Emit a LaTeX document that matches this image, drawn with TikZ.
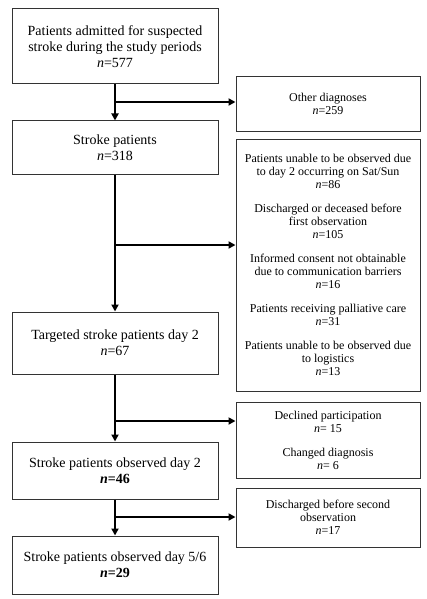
\documentclass[tikz,border=0pt]{standalone}
\usepackage{fontspec}
\setmainfont{Liberation Serif}
\usetikzlibrary{arrows.meta}
\tikzset{
  leftbox/.style={draw=black!80, line width=1pt, minimum width=206pt, inner sep=0pt, align=center, font=\fontsize{14}{16}\selectfont},
  rightbox/.style={draw=black!80, line width=1pt, minimum width=184pt, inner sep=0pt, align=center, font=\fontsize{12}{13}\selectfont},
  flow/.style={line width=2.2pt, -{Triangle[length=7pt,width=7pt]}},
  trunk/.style={line width=2.2pt}
}
\newcommand{\gap}{\\[11pt]}
\begin{document}
\begin{tikzpicture}[x=1pt,y=-1pt]
\useasboundingbox (0,0) rectangle (426,599);
% left column
\node[leftbox, minimum height=75pt] (b1) at (115,46.5) {Patients admitted for suspected\\stroke during the study periods\\\textit{n}=577};
\node[leftbox, minimum height=53pt] (b2) at (115,147.5) {Stroke patients\\\textit{n}=318};
\node[leftbox, minimum height=62pt] (b3) at (115,343) {Targeted stroke patients day 2\\\textit{n}=67};
\node[leftbox, minimum height=57pt] (b4) at (115,470.5) {Stroke patients observed day 2\\\textbf{\textit{n}=46}};
\node[leftbox, minimum height=58pt] (b5) at (115,565) {Stroke patients observed day 5/6\\\textbf{\textit{n}=29}};
% right column
\node[rightbox, minimum height=54pt] (r1) at (328,104) {Other diagnoses\\\textit{n}=259};
\node[rightbox, minimum height=252pt] (r2) at (328,265) {Patients unable to be observed due\\to day 2 occurring on Sat/Sun\\\textit{n}=86\gap
Discharged or deceased before\\first observation\\\textit{n}=105\gap
Informed consent not obtainable\\due to communication barriers\\\textit{n}=16\gap
Patients receiving palliative care\\\textit{n}=31\gap
Patients unable to be observed due\\to logistics\\\textit{n}=13};
\node[rightbox, minimum height=76pt] (r3) at (328,440) {Declined participation\\\textit{n}= 15\gap Changed diagnosis\\\textit{n}= 6};
\node[rightbox, minimum height=59pt] (r4) at (328,517.5) {Discharged before second\\observation\\\textit{n}=17};
% junctions
\coordinate (j1) at (115,102);
\coordinate (j2) at (115,245);
\coordinate (j3) at (115,421);
\coordinate (j4) at (115,517);
% vertical arrows
\draw[flow] (b1.south) -- (b2.north);
\draw[flow] (b2.south) -- (b3.north);
\draw[flow] (b3.south) -- (b4.north);
\draw[flow] (b4.south) -- (b5.north);
% branches
\draw[flow] (j1) -- (j1 -| r1.west);
\draw[flow] (j2) -- (j2 -| r2.west);
\draw[flow] (j3) -- (j3 -| r3.west);
\draw[flow] (j4) -- (j4 -| r4.west);
\end{tikzpicture}
\end{document}
